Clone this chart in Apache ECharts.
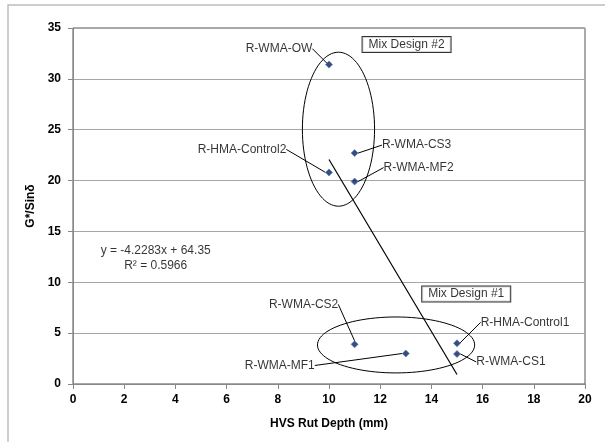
<!DOCTYPE html>
<html>
<head>
<meta charset="utf-8">
<script src="https://cdn.jsdelivr.net/npm/echarts@6/dist/echarts.min.js"></script>
<style>
html,body{margin:0;padding:0;background:#fff;}
#chart{width:605px;height:442px;}
</style>
</head>
<body>
<div id="chart"></div>
<script>
// ---- data ----
var names = ['R-WMA-OW','R-HMA-Control2','R-WMA-CS3','R-WMA-MF2','R-WMA-CS2','R-WMA-MF1','R-HMA-Control1','R-WMA-CS1'];
var rutDepth = [10, 10, 11, 11, 11, 13, 15, 15];
var gSin = [31.4, 20.8, 22.7, 19.9, 3.9, 3.0, 4.0, 2.95];
var trendX = [10, 15];
var trendY = [22.07, 0.93];
var ellipseNames = ['Mix Design #2', 'Mix Design #1'];
var ellipseCenterX = [10.37, 12.62];
var ellipseCenterY = [25.05, 3.84];
var ellipseRadX = [1.41, 3.07];
var ellipseRadY = [7.57, 2.75];
var boxX = [13.03, 15.36];
var boxY = [33.38, 8.85];
var equationText = 'y = -4.2283x + 64.35\nR² = 0.5966';
var equationX = 3.23, equationY = 12.35;
var xTicks = [0, 2, 4, 6, 8, 10, 12, 14, 16, 18, 20];
var yTicks = [0, 5, 10, 15, 20, 25, 30, 35];

// label offsets (pixels) for each point label
var labelOffsets = [[-50,-16],[-87,-23],[62,-8],[64,-14],[-51,-40],[-126,12],[68,-21],[54,8]];

var FONT = '"Liberation Sans", Arial, sans-serif';
var chart = echarts.init(document.getElementById('chart'));

var pts = rutDepth.map(function(x, i){ return {value:[x, gSin[i]], name:names[i]}; });
var ellipses = ellipseCenterX.map(function(cx, i){ return [cx, ellipseCenterY[i], ellipseRadX[i], ellipseRadY[i]]; });

chart.setOption({
  animation: false,
  backgroundColor: '#fff',
  graphic: [{
    type: 'rect', shape: {x: 8, y: 5, width: 700, height: 500},
    style: {fill: 'none', stroke: '#bdbdbd', lineWidth: 1.5}, silent: true, z: -1
  }],
  grid: {left: 73, right: 20, top: 28, bottom: 58, show: true, borderColor: '#555', borderWidth: 1},
  xAxis: {
    type: 'value', min: xTicks[0], max: xTicks[xTicks.length-1], interval: 2,
    name: 'HVS Rut Depth (mm)', nameLocation: 'middle', nameGap: 34,
    nameTextStyle: {fontFamily: FONT, fontWeight: 'bold', fontSize: 12, color: '#000'},
    axisLine: {lineStyle: {color: '#888', width: 1}},
    axisTick: {show: true, inside: false, length: 5, lineStyle: {color: '#888'}},
    axisLabel: {margin: 10, fontFamily: FONT, fontWeight: 'bold', fontSize: 12, color: '#000'},
    splitLine: {show: false}
  },
  yAxis: {
    type: 'value', min: yTicks[0], max: yTicks[yTicks.length-1], interval: 5,
    name: 'G*/Sinδ', nameLocation: 'middle', nameGap: 34, nameRotate: 90,
    nameTextStyle: {fontFamily: FONT, fontWeight: 'bold', fontSize: 12, color: '#000'},
    axisLine: {lineStyle: {color: '#888', width: 1}},
    axisTick: {show: true, inside: false, length: 5, lineStyle: {color: '#888'}},
    axisLabel: {margin: 12, fontFamily: FONT, fontWeight: 'bold', fontSize: 12, color: '#000'},
    splitLine: {show: true, lineStyle: {color: '#a6a6a6', width: 1}}
  },
  series: [
    {
      type: 'custom',
      data: ellipses,
      silent: true,
      z: 2,
      renderItem: function(params, api){
        var c = api.coord([api.value(0), api.value(1)]);
        var s = api.size([api.value(2), api.value(3)]);
        var points = [];
        for (var k = 0; k <= 96; k++) {
          var a = k / 96 * Math.PI * 2;
          points.push([c[0] + s[0] * Math.cos(a), c[1] + s[1] * Math.sin(a)]);
        }
        return {type: 'polyline', shape: {points: points}, style: {stroke: '#000', lineWidth: 1, fill: 'none'}};
      }
    },
    {
      type: 'line',
      data: trendX.map(function(x, i){ return [x, trendY[i]]; }),
      showSymbol: false, symbol: 'none',
      lineStyle: {color: '#000', width: 1.2},
      silent: true, z: 3
    },
    {
      type: 'scatter',
      data: pts,
      symbol: 'diamond', symbolSize: 7,
      itemStyle: {color: '#0d1f4f', borderColor: '#3f7fd0', borderWidth: 0.8},
      z: 5,
      label: {
        show: true, position: 'inside',
        formatter: '{b}',
        fontFamily: FONT, fontSize: 12, color: '#000'
      },
      labelLine: {show: true, lineStyle: {color: '#000', width: 1}},
      labelLayout: function(p){
        var o = labelOffsets[p.dataIndex];
        return {dx: o[0], dy: o[1]};
      }
    },
    {
      type: 'scatter',
      data: boxX.map(function(x, i){ return {value: [x, boxY[i]], name: ellipseNames[i]}; }),
      symbolSize: 0, silent: true, z: 6,
      label: {
        show: true, position: 'inside', formatter: '{b}',
        fontFamily: FONT, fontSize: 12, color: '#000',
        borderColor: '#000', borderWidth: 1, backgroundColor: '#fff',
        padding: [2, 6, 1, 6]
      }
    },
    {
      type: 'scatter',
      data: [{value: [equationX, equationY], name: equationText}],
      symbolSize: 0, silent: true, z: 6,
      label: {
        show: true, position: 'inside', formatter: '{b}', align: 'center',
        fontFamily: FONT, fontSize: 12, color: '#000', lineHeight: 15
      }
    }
  ]
});
</script>
</body>
</html>
